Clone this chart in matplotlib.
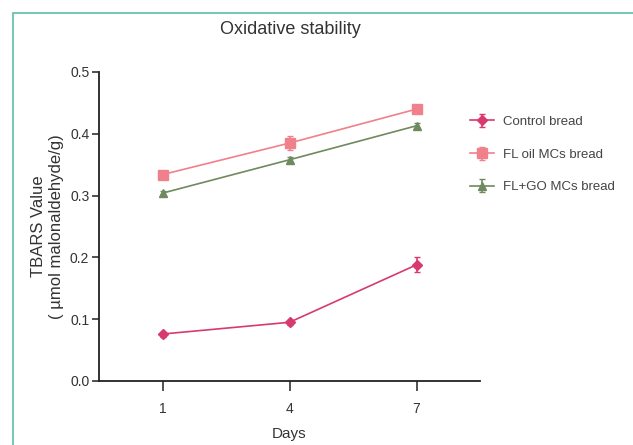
import matplotlib
matplotlib.use("Agg")
import matplotlib.pyplot as plt
from matplotlib.patches import Rectangle

plt.rcParams['font.family'] = ['Liberation Sans', 'DejaVu Sans']

days = [1, 4, 7]
series_names = ["Control bread", "FL oil MCs bread", "FL+GO MCs bread"]
control = [0.076, 0.095, 0.188]
control_err = [0.004, 0.004, 0.012]
fl_oil = [0.334, 0.385, 0.440]
fl_oil_err = [0.006, 0.012, 0.007]
fl_go = [0.304, 0.358, 0.413]
fl_go_err = [0.004, 0.004, 0.004]
y_ticks = [0.0, 0.1, 0.2, 0.3, 0.4, 0.5]

W, H = 633, 445
fig = plt.figure(figsize=(W / 100, H / 100), dpi=100)
fig.patch.set_facecolor("white")

# teal frame around the panel
fig.patches.append(Rectangle((13 / W, -0.1), 1.2, (H - 13) / H + 0.1,
                             transform=fig.transFigure, fill=False,
                             edgecolor="#5dbfa8", linewidth=1.2))

ax = fig.add_axes([99 / W, 1 - 381 / H, (480 - 99) / W, (381 - 72) / H])

styles = [
    (control, control_err, "#d83a6e", "D", 5),
    (fl_oil, fl_oil_err, "#f0808c", "s", 7),
    (fl_go, fl_go_err, "#6f8a5e", "^", 6),
]
for name, (vals, errs, col, mk, ms) in zip(series_names, styles):
    ax.errorbar(days, vals, yerr=errs, color=col, marker=mk, markersize=ms,
                linewidth=1.2, elinewidth=1.2, capsize=2, label=name)

ax.set_xlim(-0.5, 8.5)
ax.set_ylim(0, 0.5)
ax.set_xticks(days)
ax.set_xticklabels([str(d) for d in days])
ax.set_yticks(y_ticks)
ax.set_yticklabels([f"{t:.1f}" for t in y_ticks])
for s in ["top", "right"]:
    ax.spines[s].set_visible(False)
for s in ["left", "bottom"]:
    ax.spines[s].set_linewidth(1.3)
    ax.spines[s].set_color("#222222")
ax.tick_params(axis="y", labelsize=10, colors="#333333", length=5, width=1.2, pad=2)
ax.tick_params(axis="x", labelsize=10, colors="#333333", length=7, width=1.2, pad=8)

ax.set_xlabel("Days", fontsize=11, color="#333333", labelpad=8)
ax.set_ylabel("TBARS Value\n( \u00b5mol malonaldehyde/g)", fontsize=12,
              color="#333333", labelpad=4, linespacing=1.3)
fig.text(290 / W, 1 - 30 / H, "Oxidative stability", ha="center", va="center",
         fontsize=13, color="#333333")

ax.legend(loc="upper left", bbox_to_anchor=(458 / W, 1 - 104 / H),
          bbox_transform=fig.transFigure, frameon=False,
          prop={"size": 9.5, "family": ["Liberation Sans"]},
          labelcolor="#444444", handlelength=1.8, handletextpad=0.7,
          labelspacing=1.55)

fig.savefig("out.png", dpi=100)
